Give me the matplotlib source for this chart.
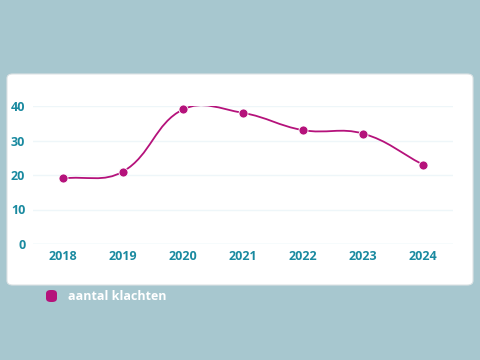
import numpy as np
import matplotlib
matplotlib.use("Agg")
import matplotlib.pyplot as plt
from matplotlib.path import Path
from matplotlib.patches import PathPatch, FancyBboxPatch

years = ["2018", "2019", "2020", "2021", "2022", "2023", "2024"]
klachten = [19, 21, 39, 38, 33, 32, 23]
yticks = [0, 10, 20, 30, 40]
series_label = "aantal klachten"

BG = "#a7c7cf"
LINE = "#b5127b"
TICK = "#1a8aa0"
FONT = "Open Sans"

fig = plt.figure(figsize=(4.8, 3.6), dpi=100)
fig.patch.set_facecolor(BG)

# white card
card = FancyBboxPatch((7/480, 1-285/360), 466/480, 211/360,
                      boxstyle="round,pad=0,rounding_size=0.012",
                      transform=fig.transFigure, facecolor="white",
                      edgecolor="#dde3e5", linewidth=0.8, zorder=-5)
fig.patches.append(card)

ax = fig.add_axes([33/480, 1-244/360, 420/480, 138/360])
ax.set_zorder(5)
ax.set_facecolor("none")
x = np.arange(len(years))
ax.set_xlim(-0.5, len(years)-0.5)
ax.set_ylim(0, 40)
for s in ax.spines.values():
    s.set_visible(False)
for t in yticks:
    ax.axhline(t, color="#d6ecf1" if t == 0 else "#eef6f9", lw=1, zorder=1)

# smooth line (chart.js-like tension 0.4, computed in display space)
y = np.array(klachten, float)
fig.canvas.draw()
P = ax.transData.transform(np.column_stack([x, y]))
tension = 0.4
n = len(P)
def ctrl(i):
    p = P[i]
    pp = P[i-1] if i > 0 else p
    pn = P[i+1] if i < n-1 else p
    d01 = np.hypot(*(p-pp))
    d12 = np.hypot(*(pn-p))
    tot = d01 + d12
    s01 = d01/tot if tot else 0
    s12 = d12/tot if tot else 0
    prev = p - tension*s01*(pn-pp)
    nxt = p + tension*s12*(pn-pp)
    return prev, nxt
cps = [ctrl(i) for i in range(n)]
verts = [P[0]]
codes = [Path.MOVETO]
for i in range(n-1):
    verts += [cps[i][1], cps[i+1][0], P[i+1]]
    codes += [Path.CURVE4]*3
verts = ax.transData.inverted().transform(np.array(verts))
ax.add_patch(PathPatch(Path(verts, codes), fill=False, edgecolor=LINE, lw=1.3, zorder=3))
ax.plot(x, y, "o", color=LINE, ms=6.5, mec="white", mew=0.6, zorder=4, clip_on=False)

ax.set_xticks(x)
ax.set_xticklabels(years)
ax.set_yticks(yticks)
ax.tick_params(length=0, colors=TICK, labelsize=9)
ax.tick_params(axis="x", pad=4.5)
ax.tick_params(axis="y", pad=5.5)
for lab in ax.get_xticklabels() + ax.get_yticklabels():
    lab.set_fontfamily(FONT)
    lab.set_fontweight("bold")
    lab.set_color(TICK)

# legend
leg_box = FancyBboxPatch((46/480, 1-302/360), 11/480, 12/360,
                         boxstyle="round,pad=0,rounding_size=0.01",
                         transform=fig.transFigure, facecolor=LINE, edgecolor="none")
fig.patches.append(leg_box)
fig.text(68/480, 1-296.5/360, series_label, color="white", fontsize=9,
         fontfamily=FONT, fontweight="bold", va="center", ha="left")

fig.savefig("out.png", dpi=100, facecolor=BG)
